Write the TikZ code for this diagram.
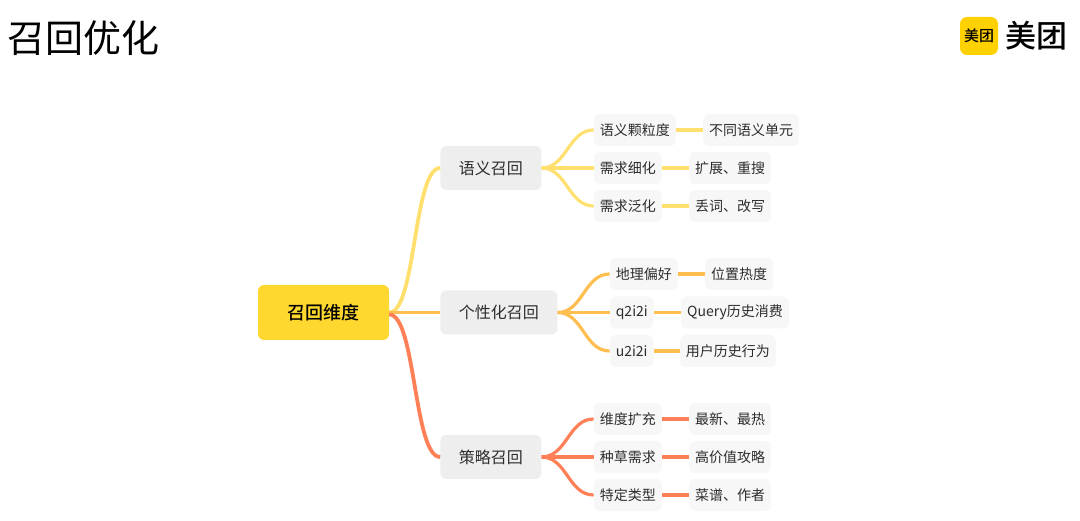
\documentclass[tikz,border=0pt]{standalone}
\usepackage{fontspec}
\setmainfont{Noto Sans CJK SC}
\newfontfamily\mediumcjk{Noto Sans CJK SC Medium}
\usepackage{xcolor}
\usetikzlibrary{positioning}
\definecolor{meituan}{RGB}{255,209,0}
\definecolor{rootfill}{RGB}{255,216,47}
\definecolor{branchfill}{RGB}{238,238,238}
\definecolor{leaffill}{RGB}{247,247,247}
\definecolor{wireyellow}{RGB}{255,224,110}
\definecolor{wireorange}{RGB}{255,190,80}
\definecolor{wirecoral}{RGB}{255,127,87}
\definecolor{inktext}{RGB}{45,45,45}

\begin{document}
\begin{tikzpicture}[
  x=1pt, y=1pt,
  rootbox/.style={font=\fontsize{18}{18}\selectfont\mediumcjk, fill=rootfill, text=black, rounded corners=6pt,
    minimum height=55pt, inner xsep=29.5pt, inner ysep=0pt},
  branchbox/.style={font=\fontsize{16}{16}\selectfont, fill=branchfill, text=inktext, rounded corners=6pt,
    minimum height=44pt, inner xsep=18.5pt, inner ysep=0pt},
  leafbox/.style={font=\fontsize{14}{14}\selectfont, fill=leaffill, text=inktext, rounded corners=6pt,
    minimum height=32pt, inner xsep=6pt, inner ysep=0pt},
  plain/.style={inner sep=0pt},
  wire/.style={line width=3.2pt},
  fan/.style={wire, out=0, in=180, looseness=1},
  trunk/.style={line width=3.8pt, out=0, in=180, looseness=0.45}
]
\useasboundingbox (0,0) rectangle (1080,-521);

\node[plain, font=\fontsize{38}{38}\selectfont, text=black] (title) at (84,-38) {召回优化};
\node[fill=meituan, rounded corners=7pt, minimum width=38pt, minimum height=38pt, inner sep=0pt,
  font=\fontsize{15}{15}\selectfont\mediumcjk, text=black] (logo) at (979,-36) {美团};
\node[plain, right=7pt of logo, font=\fontsize{31}{31}\selectfont\mediumcjk, text=black] (brand) {美团};

\node[rootbox] (dim) at (323.5,-312.5) {召回维度};

\node[branchbox, right=51pt of dim, yshift=144.5pt] (sem) {语义召回};
\node[branchbox, right=51pt of dim] (pers) {个性化召回};
\node[branchbox, right=51pt of dim, yshift=-144.5pt] (strat) {策略召回};

\node[leafbox, right=52pt of sem, yshift=38pt] (gran) {语义颗粒度};
\node[leafbox, right=52pt of sem] (refine) {需求细化};
\node[leafbox, right=52pt of sem, yshift=-38pt] (broad) {需求泛化};
\node[leafbox, right=27pt of gran] (unit) {不同语义单元};
\node[leafbox, right=27pt of refine] (expand) {扩展、重搜};
\node[leafbox, right=27pt of broad] (drop) {丢词、改写};

\node[leafbox, right=52pt of pers, yshift=38.5pt] (geo) {地理偏好};
\node[leafbox, right=52pt of pers] (qii) {q2i2i};
\node[leafbox, right=52pt of pers, yshift=-38.5pt] (uii) {u2i2i};
\node[leafbox, right=27pt of geo] (heat) {位置热度};
\node[leafbox, right=27pt of qii] (query) {Query历史消费};
\node[leafbox, right=26pt of uii] (behav) {用户历史行为};

\node[leafbox, right=52pt of strat, yshift=38pt] (widen) {维度扩充};
\node[leafbox, right=52pt of strat] (seed) {种草需求};
\node[leafbox, right=52pt of strat, yshift=-38pt] (kind) {特定类型};
\node[leafbox, right=27pt of widen] (latest) {最新、最热};
\node[leafbox, right=27pt of seed] (guide) {高价值攻略};
\node[leafbox, right=27pt of kind] (recipe) {菜谱、作者};

\draw[trunk, wireyellow] (dim.east) to (sem.west);
\draw[line width=3.8pt, wireorange] (dim.east) -- (pers.west);
\draw[trunk, wirecoral] ([yshift=-2pt]dim.east) to (strat.west);

\draw[fan, wireyellow] (sem.east) to (gran.west);
\draw[wire, wireyellow] (sem.east) -- (refine.west);
\draw[fan, wireyellow] (sem.east) to (broad.west);
\draw[wire, wireyellow] (gran) -- (unit);
\draw[wire, wireyellow] (refine) -- (expand);
\draw[wire, wireyellow] (broad) -- (drop);

\draw[fan, wireorange] (pers.east) to (geo.west);
\draw[wire, wireorange] (pers.east) -- (qii.west);
\draw[fan, wireorange] (pers.east) to (uii.west);
\draw[wire, wireorange] (geo) -- (heat);
\draw[wire, wireorange] (qii) -- (query);
\draw[wire, wireorange] (uii) -- (behav);

\draw[fan, wirecoral] (strat.east) to (widen.west);
\draw[wire, wirecoral] (strat.east) -- (seed.west);
\draw[fan, wirecoral] (strat.east) to (kind.west);
\draw[wire, wirecoral] (widen) -- (latest);
\draw[wire, wirecoral] (seed) -- (guide);
\draw[wire, wirecoral] (kind) -- (recipe);
\end{tikzpicture}
\end{document}
